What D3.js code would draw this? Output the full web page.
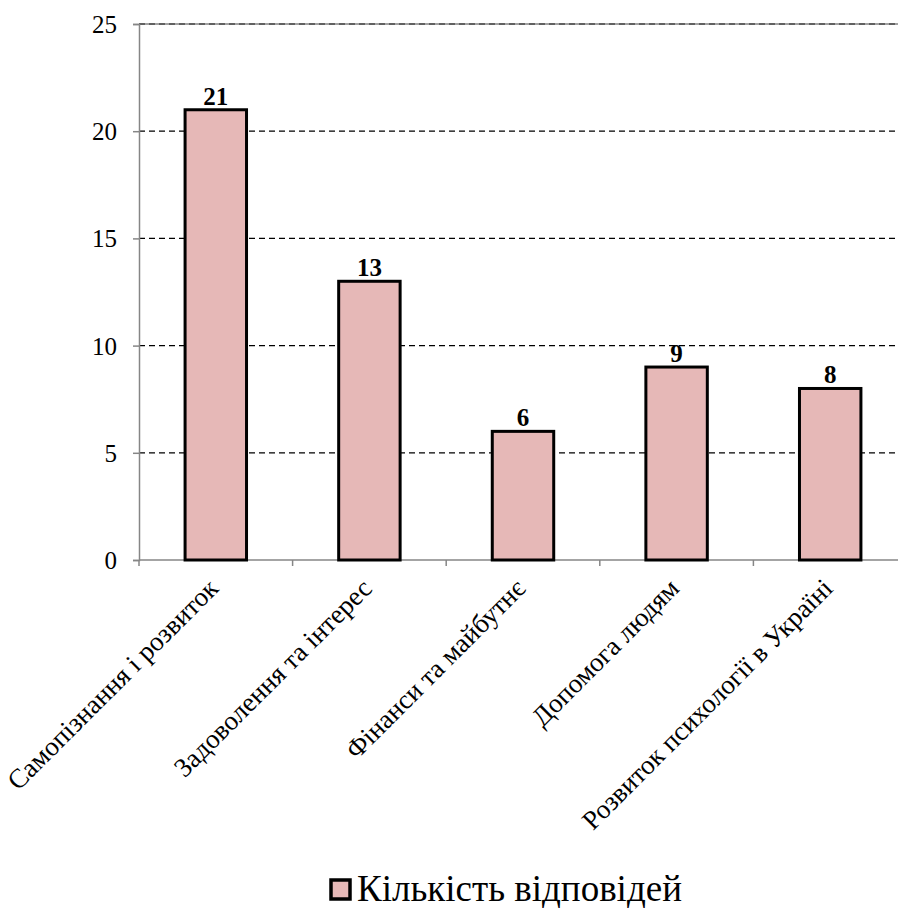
<!DOCTYPE html>
<html>
<head>
<meta charset="utf-8">
<script src="https://cdn.jsdelivr.net/npm/d3@7"></script>
<style>
  body { margin: 0; background: #fff; }
  svg text { font-family: "Liberation Serif", "Times New Roman", serif; }
</style>
</head>
<body>
<div id="chart"></div>
<script>
var categories = ["Самопізнання і розвиток", "Задоволення та інтерес", "Фінанси та майбутнє", "Допомога людям", "Розвиток психології в Україні"];
var values = [21, 13, 6, 9, 8];
var yTicks = [0, 5, 10, 15, 20, 25];
var seriesName = "Кількість відповідей";

var width = 898, height = 908;
var plotLeft = 139, plotTop = 24, plotBottom = 560;
var band = 153.6;

var svg = d3.select("#chart").append("svg")
  .attr("width", width)
  .attr("height", height);

var x = d3.scaleBand()
  .domain(categories)
  .range([plotLeft, plotLeft + band * categories.length])
  .paddingInner(0.6)
  .paddingOuter(0.3);

var y = d3.scaleLinear()
  .domain([0, 25])
  .range([plotBottom, plotTop]);

// gridlines
svg.append("g")
  .selectAll("line")
  .data(yTicks.filter(d => d > 0))
  .enter()
  .append("line")
  .attr("x1", plotLeft)
  .attr("x2", width)
  .attr("y1", d => y(d))
  .attr("y2", d => y(d))
  .attr("stroke", "#000")
  .attr("stroke-width", 1.2)
  .attr("stroke-dasharray", "6,4");

svg.append("line")
  .attr("x1", plotLeft).attr("x2", width)
  .attr("y1", y(25)).attr("y2", y(25))
  .attr("stroke", "#444").attr("stroke-width", 1);

// y axis
var yAxis = svg.append("g")
  .attr("transform", "translate(" + plotLeft + ",0)")
  .call(d3.axisLeft(y).tickValues(yTicks).tickSize(6).tickPadding(16));
yAxis.select(".domain").attr("stroke", "#868686").attr("stroke-width", 1.5);
yAxis.selectAll(".tick line").attr("stroke", "#868686").attr("stroke-width", 1.5);
yAxis.selectAll(".tick text")
  .attr("font-size", 25)
  .attr("dy", "0.34em")
  .attr("fill", "#000");

// x axis line + ticks at band boundaries
svg.append("line")
  .attr("x1", plotLeft).attr("x2", width)
  .attr("y1", plotBottom).attr("y2", plotBottom)
  .attr("stroke", "#868686").attr("stroke-width", 1.5);

svg.append("g")
  .selectAll("line")
  .data(d3.range(categories.length + 1))
  .enter()
  .append("line")
  .attr("x1", i => plotLeft + i * band)
  .attr("x2", i => plotLeft + i * band)
  .attr("y1", plotBottom)
  .attr("y2", plotBottom + 6)
  .attr("stroke", "#868686")
  .attr("stroke-width", 1.5);

// bars
svg.append("g")
  .selectAll("rect")
  .data(values)
  .enter()
  .append("rect")
  .attr("x", (d, i) => x(categories[i]))
  .attr("y", d => y(d))
  .attr("width", x.bandwidth())
  .attr("height", d => plotBottom - y(d))
  .attr("fill", "#e6b8b7")
  .attr("stroke", "#000")
  .attr("stroke-width", 3);

// value labels
svg.append("g")
  .selectAll("text")
  .data(values)
  .enter()
  .append("text")
  .attr("x", (d, i) => x(categories[i]) + x.bandwidth() / 2)
  .attr("y", d => y(d) - 5)
  .attr("text-anchor", "middle")
  .attr("font-size", 25)
  .attr("font-weight", "bold")
  .text(d => d);

// category labels
svg.append("g")
  .selectAll("text")
  .data(categories)
  .enter()
  .append("text")
  .attr("transform", d => "translate(" + (x(d) + x.bandwidth() / 2 + 4) + "," + (plotBottom + 30) + ") rotate(-45)")
  .attr("text-anchor", "end")
  .attr("font-size", 27)
  .text(d => d);

// legend
var lg = svg.append("g").attr("transform", "translate(331,880)");
lg.append("rect")
  .attr("width", 19).attr("height", 19)
  .attr("fill", "#e6b8b7")
  .attr("stroke", "#000")
  .attr("stroke-width", 3.5);
lg.append("text")
  .attr("x", 26)
  .attr("y", 21)
  .attr("font-size", 37)
  .text(seriesName);
</script>
</body>
</html>
